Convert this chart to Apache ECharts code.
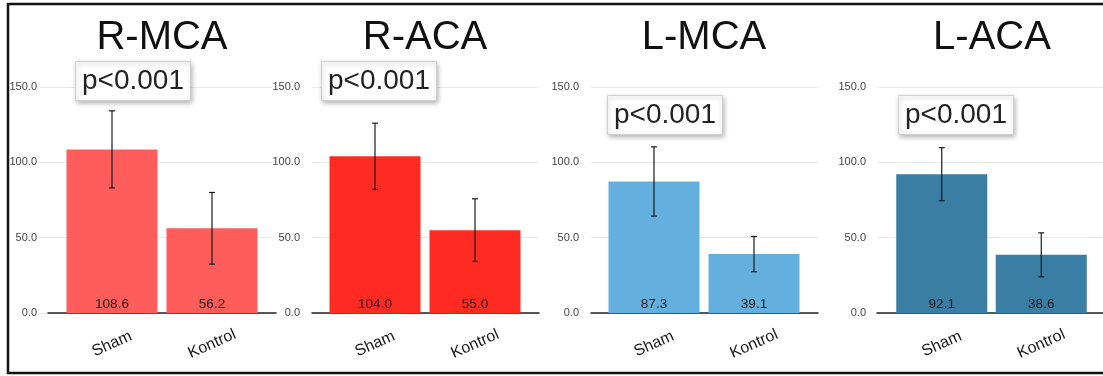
<!DOCTYPE html>
<html>
<head>
<meta charset="utf-8">
<script src="https://cdn.jsdelivr.net/npm/echarts@6/dist/echarts.min.js"></script>
<style>
html,body{margin:0;padding:0;background:#fff;}
#chart{width:1103px;height:376px;}
</style>
</head>
<body>
<div id="chart"></div>
<script>
// ---- data ----
const panelTitles = ['R-MCA', 'R-ACA', 'L-MCA', 'L-ACA'];
const categories = ['Sham', 'Kontrol'];
const rmcaValues = [108.6, 56.2];
const rmcaErrors = [25.6, 23.8];
const racaValues = [104.0, 55.0];
const racaErrors = [22.0, 20.8];
const lmcaValues = [87.3, 39.1];
const lmcaErrors = [23.0, 11.7];
const lacaValues = [92.1, 38.6];
const lacaErrors = [17.6, 14.6];
const yMin = 0, yMax = 150, yStep = 50;
const pLabel = 'p<0.001';

// ---- layout / style ----
const FONT = '"Liberation Sans", Arial, Helvetica, sans-serif';
const panelValues = [rmcaValues, racaValues, lmcaValues, lacaValues];
const panelErrors = [rmcaErrors, racaErrors, lmcaErrors, lacaErrors];
const colors = ['#FF5C5C', '#FF2B22', '#63B0DF', '#3A7EA3'];
const layout = [
  {yl: 39, yw: 233, ym: 2, al: 48, aw: 228, bl: 62, bw: 200, tc: 162, pl: 75, pt: 61},
  {yl: 312, yw: 226, ym: 12, al: 312, aw: 227, bl: 325, bw: 200, tc: 425, pl: 321, pt: 61},
  {yl: 591, yw: 227, ym: 12, al: 591, aw: 227, bl: 604, bw: 200, tc: 704, pl: 607, pt: 95},
  {yl: 878, yw: 225, ym: 12, al: 877, aw: 226, bl: 892, bw: 199, tc: 992, pl: 898, pt: 95}
];
const TOP = 87, BOTTOM = 63;

const grid = [], xAxis = [], yAxis = [], series = [], title = [], graphic = [];

function errRender(params, api) {
  const x = api.value(0);
  const lo = api.coord([x, api.value(1)]);
  const hi = api.coord([x, api.value(2)]);
  const cw = 3;
  const st = {stroke: '#1a1a1a', lineWidth: 1.2};
  return {type: 'group', children: [
    {type: 'line', shape: {x1: lo[0], y1: lo[1], x2: hi[0], y2: hi[1]}, style: st},
    {type: 'line', shape: {x1: hi[0] - cw, y1: hi[1], x2: hi[0] + cw, y2: hi[1]}, style: st},
    {type: 'line', shape: {x1: lo[0] - cw, y1: lo[1], x2: lo[0] + cw, y2: lo[1]}, style: st}
  ]};
}

layout.forEach((L, i) => {
  const g0 = grid.length;
  // y grid (labels + split lines)
  grid.push({left: L.yl, width: L.yw, top: TOP, bottom: BOTTOM});
  xAxis.push({type: 'category', gridIndex: g0, data: categories, show: false});
  yAxis.push({type: 'value', gridIndex: g0, min: yMin, max: yMax, interval: yStep,
    axisLine: {show: false}, axisTick: {show: false},
    axisLabel: {margin: L.ym, fontSize: 11, color: '#444', fontFamily: FONT, formatter: v => v.toFixed(1)},
    splitLine: {lineStyle: {color: '#e8e8e8', width: 1}}});
  // axis line grid
  grid.push({left: L.al, width: L.aw, top: TOP, bottom: BOTTOM});
  xAxis.push({type: 'category', gridIndex: g0 + 1, data: categories,
    axisLine: {show: true, lineStyle: {color: '#222', width: 1.5}},
    axisTick: {show: false}, axisLabel: {show: false}});
  yAxis.push({type: 'value', gridIndex: g0 + 1, min: yMin, max: yMax, show: false});
  // bar grid
  grid.push({left: L.bl, width: L.bw, top: TOP, bottom: BOTTOM});
  xAxis.push({type: 'category', gridIndex: g0 + 2, data: categories,
    axisLine: {show: false}, axisTick: {show: false},
    axisLabel: {interval: 0, rotate: 24, align: 'center', verticalAlign: 'middle', margin: 31,
      fontSize: 16, color: '#1a1a1a', fontFamily: FONT}});
  yAxis.push({type: 'value', gridIndex: g0 + 2, min: yMin, max: yMax, show: false});

  const vals = panelValues[i], errs = panelErrors[i];
  series.push({type: 'bar', xAxisIndex: g0 + 2, yAxisIndex: g0 + 2, data: vals, barWidth: 91,
    itemStyle: {color: colors[i]},
    label: {show: true, position: 'insideBottom', distance: 2, fontSize: 13.5, color: '#1a1a1a',
      fontFamily: FONT, formatter: p => p.value.toFixed(1)},
    silent: true, animation: false});
  series.push({type: 'custom', xAxisIndex: g0 + 2, yAxisIndex: g0 + 2, z: 5,
    data: vals.map((v, k) => [k, v - errs[k], v + errs[k]]),
    encode: {x: 0, y: [1, 2]}, renderItem: errRender, silent: true, animation: false});

  graphic.push({type: 'text', x: L.tc, y: 18, z: 10,
    style: {text: panelTitles[i], font: '40px ' + FONT, fill: '#111', textAlign: 'center'}});
  title.push({text: pLabel, left: L.pl, top: L.pt, padding: [6, 7],
    backgroundColor: '#fff', borderColor: '#cfcfcf', borderWidth: 1,
    shadowBlur: 5, shadowColor: 'rgba(0,0,0,0.3)', shadowOffsetX: 1, shadowOffsetY: 2,
    textStyle: {fontSize: 28, fontWeight: 'normal', color: '#222', fontFamily: FONT}});
});

graphic.push({type: 'rect', shape: {x: 8, y: 4, width: 1110, height: 369},
  style: {fill: 'none', stroke: '#111', lineWidth: 2.5}, z: 20, silent: true});

const chart = echarts.init(document.getElementById('chart'), null, {renderer: 'canvas'});
chart.setOption({animation: false, backgroundColor: '#fff', title, grid, xAxis, yAxis, series, graphic});
</script>
</body>
</html>
